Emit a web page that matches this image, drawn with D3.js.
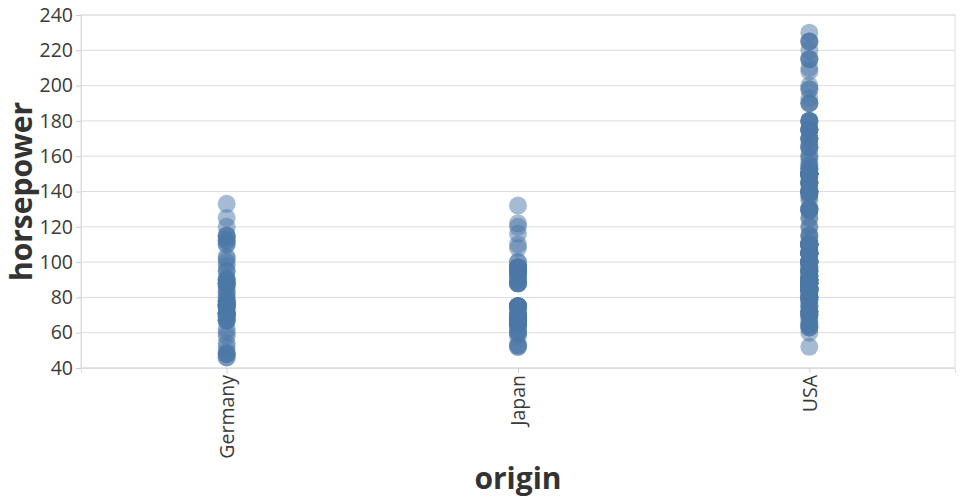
<!DOCTYPE html>
<html>
<head>
<meta charset="utf-8">
<script src="https://cdn.jsdelivr.net/npm/d3@7"></script>
<style>
  body { margin: 0; background: #fff; }
  svg { display: block; font-family: "Open Sans", sans-serif; }
</style>
</head>
<body>
<svg id="chart" width="960" height="500"></svg>
<script>
const categories = ["Germany", "Japan", "USA"];
const yTicks = [40, 60, 80, 100, 120, 140, 160, 180, 200, 220, 240];

const germanyHP = [115, 46, 87, 90, 95, 113, 90, 70, 76, 60, 54, 112, 76, 87, 69, 90, 49, 75, 91, 112, 110,
  46, 83, 67, 78, 75, 75, 67, 71, 70, 95, 88, 98, 115, 86, 81, 83, 70, 71, 102, 88, 120, 58, 78, 78, 110,
  48, 103, 125, 115, 133, 71, 71, 77, 71, 69, 76, 78, 48, 48, 67, 67, 62, 88, 74, 100, 80, 76, 74, 52];

const japanHP = [95, 88, 88, 95, 65, 69, 95, 97, 92, 97, 88, 88, 94, 90, 122, 67, 65, 52, 61, 97, 93, 75,
  96, 97, 53, 53, 70, 75, 108, 68, 70, 75, 67, 97, 110, 52, 70, 60, 95, 97, 95, 97, 68, 65, 65, 60, 65,
  90, 75, 92, 75, 65, 65, 67, 67, 132, 100, 72, 58, 60, 67, 65, 62, 68, 75, 75, 100, 74, 116, 120, 68,
  68, 88, 75, 70, 67, 67, 67, 96];

const usaHP = [130, 165, 150, 150, 140, 198, 220, 215, 225, 190, 153, 175, 175, 170, 160, 140, 150, 225,
  95, 97, 85, 90, 215, 200, 210, 193, 90, 100, 105, 100, 88, 100, 165, 175, 153, 150, 180, 170, 175, 110,
  72, 100, 88, 86, 70, 80, 90, 86, 165, 175, 150, 153, 150, 208, 155, 160, 190, 150, 130, 140, 150, 86,
  80, 175, 150, 145, 137, 150, 198, 150, 158, 150, 215, 225, 175, 105, 100, 100, 88, 95, 150, 167, 170,
  180, 100, 72, 85, 107, 145, 230, 150, 180, 95, 100, 100, 80, 75, 100, 110, 105, 140, 150, 150, 140,
  150, 75, 95, 105, 72, 72, 170, 145, 150, 148, 110, 105, 110, 95, 110, 110, 129, 83, 100, 78, 97, 90,
  92, 79, 140, 150, 120, 152, 100, 105, 81, 90, 52, 60, 100, 78, 110, 95, 72, 150, 180, 145, 130, 150,
  80, 96, 145, 110, 145, 130, 110, 105, 100, 98, 180, 170, 190, 149, 88, 89, 63, 83, 66, 110, 140, 139,
  105, 95, 85, 88, 100, 90, 105, 85, 110, 120, 145, 165, 139, 140, 68, 75, 105, 85, 115, 85, 88, 90,
  110, 130, 129, 138, 135, 155, 142, 125, 150, 80, 80, 125, 90, 70, 70, 90, 115, 115, 90, 70, 90, 88,
  90, 90, 105, 84, 84, 92, 110, 84, 64, 63, 65, 65, 110, 105, 88, 85, 88, 88, 88, 85, 84, 90, 92, 63,
  70, 110, 85, 92, 112, 84, 90, 86, 84, 79, 82];

const seriesHP = [germanyHP, japanHP, usaHP];

const svg = d3.select("#chart");
const margin = { left: 81, top: 15, right: 5, bottom: 132 };
const W = 960, H = 500;
const x0 = margin.left, x1 = W - margin.right, y0 = margin.top, y1 = H - margin.bottom;

const x = d3.scalePoint().domain(categories).range([x0, x1]).padding(0.5);
const y = d3.scaleLinear().domain([40, 240]).range([y1, y0]);

// grid
svg.append("g").selectAll("line").data(yTicks).join("line")
  .attr("x1", x0).attr("x2", x1)
  .attr("y1", d => y(d)).attr("y2", d => y(d))
  .attr("stroke", "#ddd").attr("stroke-width", 1);

// frame
svg.append("rect").attr("x", x0).attr("y", y0).attr("width", x1 - x0).attr("height", y1 - y0)
  .attr("fill", "none").attr("stroke", "#ddd").attr("stroke-width", 1);

// y axis
const yAxis = svg.append("g").attr("transform", `translate(${x0},0)`)
  .call(d3.axisLeft(y).tickValues(yTicks).tickSize(5).tickPadding(3));
yAxis.select(".domain").attr("stroke", "#ddd");
yAxis.selectAll(".tick line").attr("stroke", "#ccc");
yAxis.selectAll(".tick text").attr("font-size", 19.5).attr("fill", "#3a3a3a")
  .attr("font-family", "Open Sans, sans-serif");

// x axis
const xAxis = svg.append("g").attr("transform", `translate(0,${y1})`)
  .call(d3.axisBottom(x).tickSize(5).tickPadding(3));
xAxis.select(".domain").attr("stroke", "#ddd");
xAxis.selectAll(".tick line").attr("stroke", "#ccc");
xAxis.selectAll(".tick text").attr("font-size", 19.5).attr("fill", "#3a3a3a")
  .attr("font-family", "Open Sans, sans-serif")
  .attr("transform", "rotate(-90)")
  .attr("text-anchor", "end")
  .attr("dy", "0.35em")
  .attr("x", -7).attr("y", 0);

// points
const pts = [];
seriesHP.forEach((arr, i) => arr.forEach(v => pts.push({ c: categories[i], v })));
svg.append("g").selectAll("circle").data(pts).join("circle")
  .attr("cx", d => x(d.c)).attr("cy", d => y(d.v)).attr("r", 9)
  .attr("fill", "#4c78a8").attr("fill-opacity", 0.5);

// axis titles
svg.append("text").attr("x", (x0 + x1) / 2).attr("y", 489)
  .attr("text-anchor", "middle").attr("font-size", 30).attr("font-weight", "bold")
  .attr("fill", "#333").text("origin");
svg.append("text").attr("transform", `translate(32,${(y0 + y1) / 2}) rotate(-90)`)
  .attr("text-anchor", "middle").attr("font-size", 30).attr("font-weight", "bold")
  .attr("fill", "#333").text("horsepower");
</script>
</body>
</html>
